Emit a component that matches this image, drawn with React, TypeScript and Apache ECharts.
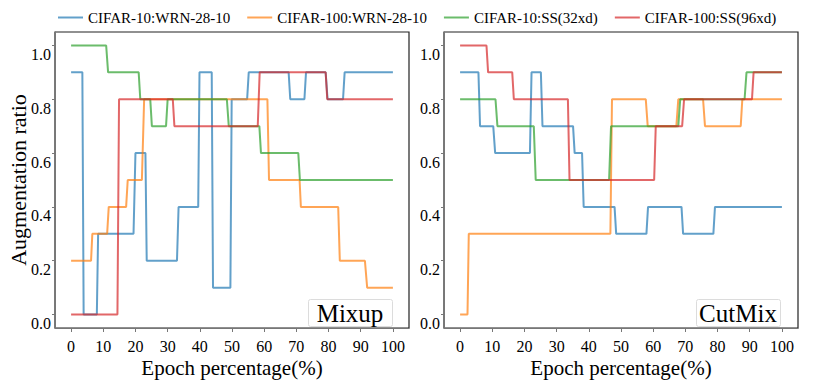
import React, { useEffect, useRef } from "react";
import * as echarts from "echarts";

const seriesNames = [
  "CIFAR-10:WRN-28-10",
  "CIFAR-100:WRN-28-10",
  "CIFAR-10:SS(32xd)",
  "CIFAR-100:SS(96xd)",
];
const colors = [
  "rgba(31,119,180,0.7)",
  "rgba(255,127,14,0.7)",
  "rgba(44,160,44,0.7)",
  "rgba(214,39,40,0.7)",
];
const xTicks = [0, 10, 20, 30, 40, 50, 60, 70, 80, 90, 100];
const yTicks = [0, 0.2, 0.4, 0.6, 0.8, 1.0];
const panelTitles = ["Mixup", "CutMix"];

const mixupWrn10 = [
  [0, 0.9], [3.5, 0.9], [3.9, 0], [8.0, 0], [8.4, 0.3], [19.4, 0.3], [20.0, 0.6], [23.1, 0.6],
  [23.5, 0.2], [32.9, 0.2], [33.4, 0.4], [39.5, 0.4], [39.9, 0.9], [43.7, 0.9], [44.1, 0.1],
  [49.5, 0.1], [49.9, 0.8], [54.7, 0.8], [55.2, 0.9], [67.6, 0.9], [68.1, 0.8], [72.5, 0.8],
  [73.0, 0.9], [79.1, 0.9], [79.7, 0.8], [84.5, 0.8], [85.0, 0.9], [100, 0.9],
];
const mixupWrn100 = [
  [0, 0.2], [6.2, 0.2], [6.6, 0.3], [11.2, 0.3], [11.7, 0.4], [17.1, 0.4], [17.6, 0.5],
  [22.0, 0.5], [22.7, 0.8], [61.0, 0.8], [61.5, 0.5], [71.0, 0.5], [71.4, 0.4], [83.0, 0.4],
  [83.5, 0.2], [91.3, 0.2], [92.0, 0.1], [100, 0.1],
];
const mixupSs10 = [
  [0, 1.0], [10.9, 1.0], [11.5, 0.9], [21.0, 0.9], [21.5, 0.8], [24.6, 0.8], [25.1, 0.7],
  [29.5, 0.7], [30.0, 0.8], [48.4, 0.8], [49.0, 0.7], [58.5, 0.7], [59.0, 0.6], [70.6, 0.6],
  [71.1, 0.5], [100, 0.5],
];
const mixupSs100 = [
  [0, 0], [14.4, 0], [14.9, 0.8], [31.6, 0.8], [32.1, 0.7], [58.0, 0.7], [58.6, 0.9],
  [79.1, 0.9], [79.6, 0.8], [100, 0.8],
];

const cutmixWrn10 = [
  [0, 0.9], [5.7, 0.9], [6.2, 0.7], [10.3, 0.7], [10.9, 0.6], [21.7, 0.6], [22.2, 0.9],
  [25.1, 0.9], [25.6, 0.7], [35.1, 0.7], [35.6, 0.6], [37.9, 0.6], [38.4, 0.4], [48.0, 0.4],
  [48.5, 0.3], [57.9, 0.3], [58.4, 0.4], [68.8, 0.4], [69.3, 0.3], [78.7, 0.3], [79.2, 0.4],
  [100, 0.4],
];
const cutmixWrn100 = [
  [0, 0], [2.3, 0], [2.7, 0.3], [46.7, 0.3], [47.2, 0.8], [57.7, 0.8], [58.3, 0.7],
  [67.2, 0.7], [67.8, 0.8], [75.5, 0.8], [76.1, 0.7], [87.2, 0.7], [87.7, 0.8], [100, 0.8],
];
const cutmixSs10 = [
  [0, 0.8], [11.0, 0.8], [11.6, 0.7], [22.9, 0.7], [23.5, 0.5], [46.3, 0.5], [46.9, 0.7],
  [67.8, 0.7], [68.4, 0.8], [88.4, 0.8], [89.0, 0.9], [100, 0.9],
];
const cutmixSs100 = [
  [0, 1.0], [8.2, 1.0], [8.7, 0.9], [16.2, 0.9], [16.7, 0.8], [33.5, 0.8], [34.0, 0.5],
  [60.3, 0.5], [60.8, 0.7], [69.0, 0.7], [69.6, 0.8], [90.7, 0.8], [91.2, 0.9], [100, 0.9],
];

const panels = [
  [mixupWrn10, mixupWrn100, mixupSs10, mixupSs100],
  [cutmixWrn10, cutmixWrn100, cutmixSs10, cutmixSs100],
];

const FONT = "'Liberation Serif', 'Times New Roman', serif";

export default function App() {
  const ref = useRef<HTMLDivElement>(null);
  useEffect(() => {
    if (!ref.current) return;
    const chart = echarts.init(ref.current, null, { renderer: "svg" });
    const grids = [
      { left: 55, top: 32, width: 354, height: 296 },
      { left: 444, top: 32, width: 354, height: 296 },
    ];
    const xAxes = grids.map((_, i) => ({
      type: "value",
      gridIndex: i,
      min: -5,
      max: 105,
      name: "Epoch percentage(%)",
      nameLocation: "middle",
      nameGap: 29,
      nameMoveOverlap: false,
      nameTextStyle: { fontFamily: FONT, fontSize: 21, color: "#000" },
      splitLine: { show: false },
      axisLine: { show: true, onZero: false, lineStyle: { color: "#777", width: 1 } },
      axisTick: { show: true, customValues: xTicks, length: 4, lineStyle: { color: "#777" } },
      axisLabel: {
        customValues: xTicks,
        fontFamily: FONT,
        fontSize: 16,
        color: "#000",
        margin: 10,
      },
    }));
    const yAxes = grids.map((_, i) => ({
      type: "value",
      gridIndex: i,
      min: -0.05,
      max: 1.05,
      name: i === 0 ? "Augmentation ratio" : "",
      nameLocation: "middle",
      nameGap: 26,
      nameMoveOverlap: false,
      nameRotate: 90,
      nameTextStyle: { fontFamily: FONT, fontSize: 22, color: "#000" },
      splitLine: { show: false },
      axisLine: { show: true, onZero: false, lineStyle: { color: "#777", width: 1 } },
      axisTick: { show: true, customValues: yTicks, length: 3, lineStyle: { color: "#777" } },
      axisLabel: {
        customValues: yTicks,
        formatter: (v: number) => v.toFixed(1),
        fontFamily: FONT,
        fontSize: 16,
        color: "#000",
        margin: 4,
        verticalAlign: "top",
        padding: [1, 0, 0, 0],
      },
    }));
    const series: any[] = [];
    panels.forEach((panel, pi) => {
      panel.forEach((data, si) => {
        series.push({
          type: "line",
          name: seriesNames[si],
          xAxisIndex: pi,
          yAxisIndex: pi,
          data,
          showSymbol: false,
          symbol: "none",
          color: colors[si],
          lineStyle: { width: 2, color: colors[si] },
        });
      });
    });
    const boxes = [
      { x: 308, w: 84, label: panelTitles[0], tx: 350 },
      { x: 696, w: 84, label: panelTitles[1], tx: 738 },
    ];
    const graphic: any[] = [];
    boxes.forEach((b) => {
      graphic.push({
        type: "rect",
        left: b.x,
        top: 299,
        shape: { width: b.w, height: 27, r: 2 },
        style: { fill: "#fff", stroke: "#dcdcdc", lineWidth: 1 },
        z: 10,
      });
      graphic.push({
        type: "text",
        x: b.tx,
        y: 313,
        style: {
          text: b.label,
          fontFamily: FONT,
          fontSize: 25,
          fill: "#000",
          align: "center",
          verticalAlign: "middle",
        },
        z: 11,
      });
    });
    chart.setOption({
      animation: false,
      backgroundColor: "#fff",
      textStyle: { fontFamily: FONT },
      legend: {
        data: seriesNames,
        left: 58,
        top: 10,
        padding: 0,
        itemWidth: 25,
        itemHeight: 14,
        itemGap: 17,
        icon: "path://M0,6 L25,6 L25,8 L0,8 Z",
        textStyle: { fontFamily: FONT, fontSize: 15, color: "#000", padding: [0, 0, 0, 0] },
      },
      grid: grids.map((g) => ({
        ...g,
        show: true,
        containLabel: false,
        outerBoundsMode: "none",
        borderColor: "#222",
        borderWidth: 1.2,
        backgroundColor: "transparent",
      })),
      xAxis: xAxes,
      yAxis: yAxes,
      series,
      graphic,
    });
    return () => chart.dispose();
  }, []);
  return (
    <div
      ref={ref}
      style={{ position: "absolute", left: 0, top: 0, width: 830, height: 380 }}
    />
  );
}
